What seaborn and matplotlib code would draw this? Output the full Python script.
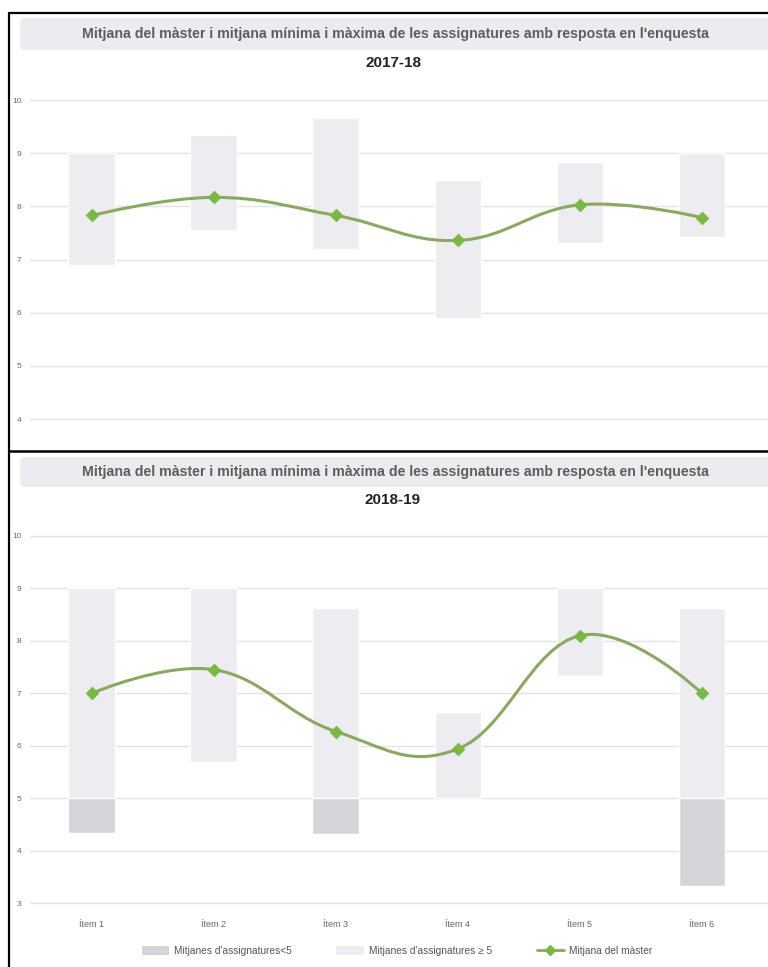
import numpy as np
import pandas as pd
import matplotlib
matplotlib.use("Agg")
import matplotlib.pyplot as plt
from matplotlib.path import Path
from matplotlib.patches import PathPatch, FancyBboxPatch, Patch
from matplotlib.lines import Line2D
import seaborn as sns

# ---- data ----
items = ["Ítem 1", "Ítem 2", "Ítem 3", "Ítem 4", "Ítem 5", "Ítem 6"]

min_1718 = [6.90, 7.55, 7.20, 5.90, 7.32, 7.43]
max_1718 = [9.00, 9.35, 9.66, 8.50, 8.83, 9.00]
mean_1718 = [7.83, 8.17, 7.83, 7.36, 8.03, 7.79]

min_1819 = [4.33, 5.69, 4.32, 5.00, 7.32, 3.33]
max_1819 = [9.00, 9.00, 8.63, 6.65, 9.00, 8.63]
mean_1819 = [7.00, 7.45, 6.27, 5.94, 8.10, 7.00]

TITLE = "Mitjana del màster i mitjana mínima i màxima de les assignatures amb resposta en l'enquesta"
LEG_LOW = "Mitjanes d'assignatures<5"
LEG_HIGH = "Mitjanes d'assignatures ≥ 5"
LEG_LINE = "Mitjana del màster"

C_LIGHT = "#ededf1"
C_DARK = "#d4d4da"
C_LINE = "#8aa860"
C_MARK = "#78b843"
C_GRID = "#e2e2e2"
C_TXT = "#666666"

sns.set_theme(style="white")
plt.rcParams["font.family"] = ["Liberation Sans Narrow", "Liberation Sans", "DejaVu Sans"]

W, H = 768, 967
fig = plt.figure(figsize=(W / 100, H / 100), dpi=100)


def fx(px):
    return px / W


def fy(py):
    return 1 - py / H


def spline_patch(xs, ys):
    # highcharts-like spline (smoothing 1.5)
    n = len(xs)
    lefts, rights = [], []
    for i in range(n):
        if i == 0 or i == n - 1:
            lefts.append((xs[i], ys[i]))
            rights.append((xs[i], ys[i]))
            continue
        lx = (1.5 * xs[i] + xs[i - 1]) / 2.5
        ly = (1.5 * ys[i] + ys[i - 1]) / 2.5
        rx = (1.5 * xs[i] + xs[i + 1]) / 2.5
        ry = (1.5 * ys[i] + ys[i + 1]) / 2.5
        corr = ((ry - ly) * (rx - xs[i])) / (rx - lx) + ys[i] - ry
        lefts.append((lx, ly + corr))
        rights.append((rx, ry + corr))
    verts = [(xs[0], ys[0])]
    codes = [Path.MOVETO]
    for i in range(1, n):
        verts += [rights[i - 1], lefts[i], (xs[i], ys[i])]
        codes += [Path.CURVE4] * 3
    return PathPatch(Path(verts, codes), facecolor="none", edgecolor=C_LINE,
                     lw=2.2, zorder=4, capstyle="round", joinstyle="round")


def draw_panel(ax, vmin, vmax, vmean, ylim, yticks, show_x):
    x = np.arange(len(items))
    vmin = np.array(vmin)
    vmax = np.array(vmax)
    # part of the range >= 5
    lo_hi = np.maximum(vmin, 5)
    ax.bar(x, vmax - lo_hi, bottom=lo_hi, width=0.385, color=C_LIGHT, zorder=2)
    # part below 5
    hi_lo = np.minimum(vmax, 5)
    low = vmin < 5
    ax.bar(x[low], (hi_lo - vmin)[low], bottom=vmin[low], width=0.385,
           color=C_DARK, zorder=2)
    ax.add_patch(spline_patch(x.astype(float), list(vmean)))
    df = pd.DataFrame({"x": x, "y": vmean})
    sns.scatterplot(data=df, x="x", y="y", marker="D", s=42, color=C_MARK,
                    edgecolor=C_MARK, linewidth=0.5, zorder=5, ax=ax, legend=False)
    ax.set_xlim(-0.508, 5.541)
    ax.set_ylim(*ylim)
    ax.set_yticks(yticks)
    ax.set_yticklabels([str(t) for t in yticks])
    ax.grid(axis="y", color=C_GRID, lw=1.0, zorder=0)
    ax.grid(axis="x", visible=False)
    ax.tick_params(axis="y", length=0, pad=6, labelsize=6, labelcolor=C_TXT)
    ax.set_xticks(x)
    if show_x:
        ax.set_xticklabels(items)
        ax.tick_params(axis="x", length=0, pad=11, labelsize=6.5, labelcolor=C_TXT)
    else:
        ax.set_xticklabels([])
        ax.tick_params(axis="x", length=0)
    ax.set_xlabel("")
    ax.set_ylabel("")
    for s in ax.spines.values():
        s.set_visible(False)
    ax.patch.set_alpha(0)


# top panel (2017-18), cut off at the divider
ax1 = fig.add_axes([fx(30), fy(450), fx(738), 370 / H])
draw_panel(ax1, min_1718, max_1718, mean_1718, (3.421, 10.376),
           list(range(4, 11)), False)

# bottom panel (2018-19)
ax2 = fig.add_axes([fx(30), fy(905), fx(738), 390 / H])
draw_panel(ax2, min_1819, max_1819, mean_1819, (2.962, 10.40),
           list(range(3, 11)), True)

# title boxes and titles
for top, bot, ttl_y, sub_y, sub in [(18, 50, 34, 63, "2017-18"),
                                     (457, 487, 472, 500, "2018-19")]:
    box = FancyBboxPatch((fx(20), fy(bot)), fx(780) - fx(20), (bot - top) / H,
                         boxstyle="round,pad=0,rounding_size=0.006",
                         transform=fig.transFigure, facecolor="#ececf0",
                         edgecolor="none", zorder=0)
    fig.add_artist(box)
    fig.text(fx(395), fy(ttl_y), TITLE, ha="center", va="center",
             fontsize=10.2, fontweight="bold", color="#5e5e5e")
    fig.text(fx(393), fy(sub_y), sub, ha="center", va="center",
             fontsize=11, fontweight="bold", color="#222222")

# legend
handles = [Patch(facecolor=C_DARK, edgecolor="none", label=LEG_LOW),
           Patch(facecolor=C_LIGHT, edgecolor="none", label=LEG_HIGH),
           Line2D([0], [0], color=C_LINE, lw=2, marker="D", markersize=5,
                  markerfacecolor=C_MARK, markeredgecolor=C_MARK, label=LEG_LINE)]
leg = fig.legend(handles=handles, loc="center", bbox_to_anchor=(fx(397), fy(951)),
                 ncol=3, frameon=False, fontsize=7.3, handlelength=2.7,
                 handleheight=0.9, columnspacing=4.4, handletextpad=0.5)
for t in leg.get_texts():
    t.set_color("#555555")

# black frame lines
fig.add_artist(Line2D([fx(9), fx(9)], [fy(13), 0], color="black", lw=1.6,
                      transform=fig.transFigure))
fig.add_artist(Line2D([fx(9), 1], [fy(13), fy(13)], color="black", lw=1.6,
                      transform=fig.transFigure))
fig.add_artist(Line2D([fx(9), 1], [fy(451), fy(451)], color="black", lw=1.8,
                      transform=fig.transFigure))

fig.savefig("out.png", dpi=100)
